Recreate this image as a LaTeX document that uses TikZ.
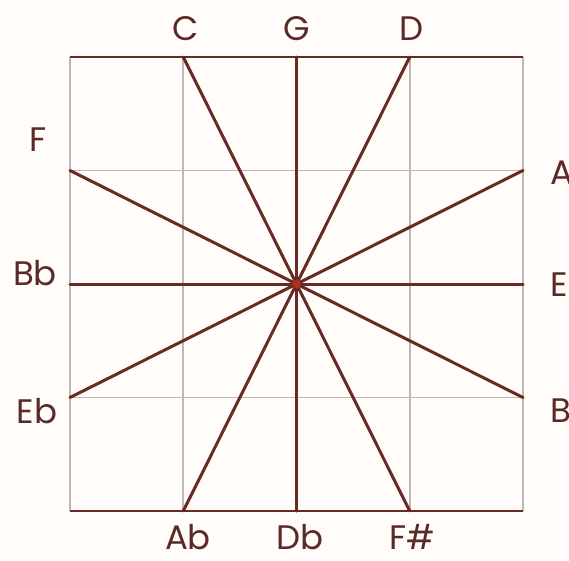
\documentclass[tikz,border=0pt]{standalone}
\usepackage{fontspec}
\setmainfont{Poppins}
\definecolor{bg}{HTML}{FFFCFA}
\definecolor{gridc}{HTML}{BDB8B6}
\definecolor{brn}{HTML}{6A2A24}
\definecolor{ctr}{HTML}{A8321E}
\definecolor{txt}{HTML}{5A2A26}
\begin{document}
\begin{tikzpicture}[x=1pt,y=-1pt,
  gridline/.style={draw=gridc,line width=1.6pt},
  spoke/.style={draw=brn,line width=3pt,line cap=round},
  lbl/.style={text=txt,font=\fontsize{34}{34}\selectfont,inner sep=0pt}]
\fill[bg] (0,0) rectangle (569,560);
\useasboundingbox (0,0) rectangle (569,560);
% grid
\foreach \x in {70,183.25,296.5,409.75,523} \draw[gridline] (\x,57) -- (\x,511);
\foreach \y in {170.5,284,397.5} \draw[gridline] (70,\y) -- (523,\y);
\draw[draw=brn,line width=2pt] (70,57) -- (523,57);
\draw[draw=brn,line width=2pt] (70,511) -- (523,511);
% endpoints
\coordinate (pC) at (183.25,57);
\coordinate (pG) at (296.5,57);
\coordinate (pD) at (409.75,57);
\coordinate (pAb) at (183.25,511);
\coordinate (pDb) at (296.5,511);
\coordinate (pFs) at (409.75,511);
\coordinate (pF) at (70,170.5);
\coordinate (pBb) at (70,284);
\coordinate (pEb) at (70,397.5);
\coordinate (pA) at (523,170.5);
\coordinate (pE) at (523,284);
\coordinate (pB) at (523,397.5);
\coordinate (ctr) at (296.5,284);
% spokes
\draw[spoke] (pG) -- (pDb);
\draw[spoke] (pC) -- (pFs);
\draw[spoke] (pD) -- (pAb);
\draw[spoke] (pF) -- (pB);
\draw[spoke] (pA) -- (pEb);
\draw[spoke] (pBb) -- (pE);
\fill[ctr] (ctr) circle (4.5);
% labels
\node[lbl] (C) at (186,29) {C};
\node[lbl] (G) at (297,29) {G};
\node[lbl] (D) at (412,29) {D};
\node[lbl] (Ab) at (188,537) {Ab};
\node[lbl] (Db) at (300,537) {Db};
\node[lbl] (Fs) at (412,537) {F\#};
\node[lbl] (F) at (38,140) {F};
\node[lbl] (Bb) at (35,273) {Bb};
\node[lbl] (Eb) at (37,411) {Eb};
\node[lbl,anchor=west] (A) at (550,173) {A};
\node[lbl,anchor=west] (E) at (550,285) {E};
\node[lbl,anchor=west] (B) at (550,411) {B};
\end{tikzpicture}
\end{document}
